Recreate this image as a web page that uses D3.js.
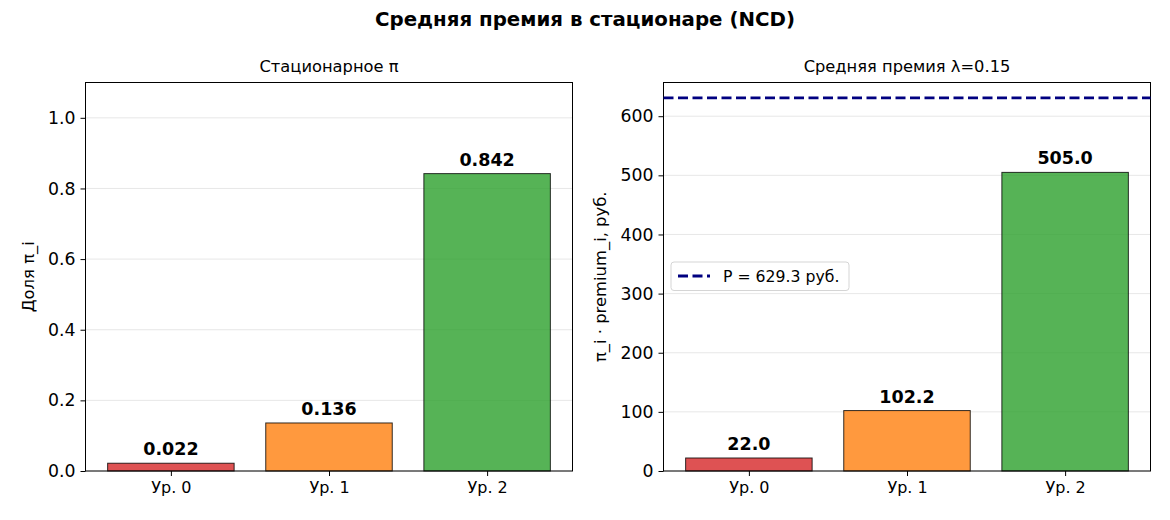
<!DOCTYPE html>
<html><head><meta charset="utf-8">
<script src="https://cdn.jsdelivr.net/npm/d3@7"></script>
<style>
body{margin:0;background:#fff;}
svg{font-family:"DejaVu Sans",sans-serif;}
</style></head>
<body><svg id="c" width="1170" height="520"></svg>
<script>
const categories = ["Ур. 0", "Ур. 1", "Ур. 2"];
const piValues = [0.022, 0.136, 0.842];
const premiumValues = [22.0, 102.2, 505.0];
const piLabels = ["0.022", "0.136", "0.842"];
const premiumLabels = ["22.0", "102.2", "505.0"];
const piTicks = [0, 0.2, 0.4, 0.6, 0.8, 1.0];
const premiumTicks = [0, 100, 200, 300, 400, 500, 600];
const meanPremium = 629.3;
const colors = ["#d62728", "#ff7f0e", "#2ca02c"];

const svg = d3.select("#c");
svg.append("text").attr("x", 585).attr("y", 26).attr("text-anchor", "middle")
  .attr("font-weight", "bold").attr("font-size", 19.8).text("Средняя премия в стационаре (NCD)");

function panel(opts) {
  const {x0, x1, y0, y1, values, labels, ticks, tickFmt, ymax, title, ylabel, ylabelX} = opts;
  const g = svg.append("g");
  const x = d3.scaleLinear().domain([-0.54, 2.54]).range([x0, x1]);
  const y = d3.scaleLinear().domain([0, ymax]).range([y1, y0]);
  // grid
  g.selectAll(".grid").data(ticks).enter().append("line")
    .attr("x1", x0).attr("x2", x1).attr("y1", d => y(d)).attr("y2", d => y(d))
    .attr("stroke", "#b0b0b0").attr("stroke-opacity", 0.3).attr("stroke-width", 1);
  // bars
  g.selectAll(".bar").data(values).enter().append("rect")
    .attr("x", (d, i) => x(i - 0.4)).attr("width", (d, i) => x(i + 0.4) - x(i - 0.4))
    .attr("y", d => y(d)).attr("height", d => y(0) - y(d))
    .attr("fill", (d, i) => colors[i]).attr("fill-opacity", 0.8)
    .attr("stroke", "#000").attr("stroke-opacity", 0.8).attr("stroke-width", 1);
  g.selectAll(".lbl").data(values).enter().append("text")
    .attr("x", (d, i) => x(i)).attr("y", d => y(d) - 8)
    .attr("text-anchor", "middle").attr("font-weight", "bold").attr("font-size", 17.5)
    .text((d, i) => labels[i]);
  // axes
  const ya = d3.axisLeft(y).tickValues(ticks).tickFormat(tickFmt).tickSize(5).tickPadding(5);
  const ga = g.append("g").attr("transform", `translate(${x0},0)`).call(ya);
  ga.select(".domain").remove();
  ga.selectAll("text").attr("font-size", 17.3).attr("fill", "#000").attr("font-family", "DejaVu Sans");
  ga.selectAll("line").attr("stroke", "#000");
  const xa = d3.axisBottom(x).tickValues([0, 1, 2]).tickFormat(i => categories[i]).tickSize(5).tickPadding(6);
  const gx = g.append("g").attr("transform", `translate(0,${y1})`).call(xa);
  gx.select(".domain").remove();
  gx.selectAll("text").attr("font-size", 16).attr("fill", "#000").attr("font-family", "DejaVu Sans");
  gx.selectAll("line").attr("stroke", "#000");
  g.append("rect").attr("x", x0).attr("y", y0).attr("width", x1 - x0).attr("height", y1 - y0)
    .attr("fill", "none").attr("stroke", "#000").attr("stroke-width", 1);
  g.append("text").attr("x", (x0 + x1) / 2).attr("y", y0 - 10.5).attr("text-anchor", "middle")
    .attr("font-size", 16.3).text(title);
  g.append("text").attr("transform", `translate(${ylabelX},${(y0 + y1) / 2}) rotate(-90)`)
    .attr("text-anchor", "middle").attr("font-size", 16.4).text(ylabel);
  return {g, x, y};
}

panel({x0: 85.5, x1: 572.5, y0: 82.5, y1: 471, values: piValues, labels: piLabels,
  ticks: piTicks, tickFmt: d3.format(".1f"), ymax: 1.1, title: "Стационарное π",
  ylabel: "Доля π_i", ylabelX: 34});

const right = panel({x0: 663.5, x1: 1150.5, y0: 82.5, y1: 471, values: premiumValues, labels: premiumLabels,
  ticks: premiumTicks, tickFmt: d3.format("d"), ymax: 657, title: "Средняя премия λ=0.15",
  ylabel: "π_i · premium_i, руб.", ylabelX: 606});

right.g.append("line").attr("x1", 663.5).attr("x2", 1150.5)
  .attr("y1", right.y(meanPremium) - 1).attr("y2", right.y(meanPremium) - 1)
  .attr("stroke", "#000080").attr("stroke-width", 2.8).attr("stroke-dasharray", "10,4.5");

// legend
const lg = right.g.append("g");
lg.append("rect").attr("x", 671).attr("y", 262).attr("width", 178).attr("height", 28.5).attr("rx", 3)
  .attr("fill", "#fff").attr("fill-opacity", 0.8).attr("stroke", "#d5d5d5").attr("stroke-width", 1);
lg.append("line").attr("x1", 678).attr("x2", 710).attr("y1", 276).attr("y2", 276)
  .attr("stroke", "#000080").attr("stroke-width", 2.8).attr("stroke-dasharray", "10,4.5");
lg.append("text").attr("x", 723).attr("y", 281.5).attr("font-size", 15.7).text("P = " + meanPremium.toFixed(1) + " руб.");
</script></body></html>
